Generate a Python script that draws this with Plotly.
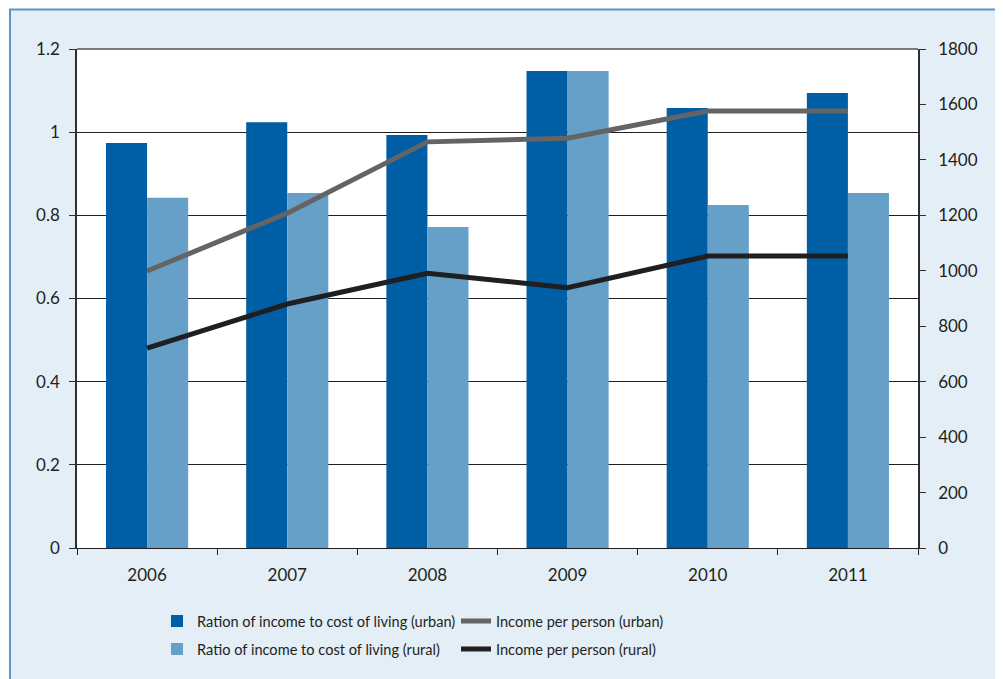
import plotly.graph_objects as go

years = ["2006", "2007", "2008", "2009", "2010", "2011"]
ratio_urban = [0.974, 1.024, 0.993, 1.147, 1.058, 1.094]
ratio_rural = [0.842, 0.854, 0.772, 1.147, 0.825, 0.854]
income_urban = [999, 1208, 1465, 1478, 1576, 1576]
income_rural = [721, 880, 991, 939, 1053, 1053]

left_ticks = [0, 0.2, 0.4, 0.6, 0.8, 1, 1.2]
left_ticklabels = ["0", "0.2", "0.4", "0.6", "0.8", "1", "1.2"]
right_ticks = [0, 200, 400, 600, 800, 1000, 1200, 1400, 1600, 1800]

FONT = "Lato"
TXT = "#231f20"
FS = 17
LFS = 14.6

fig = go.Figure()
fig.add_trace(go.Bar(x=years, y=ratio_urban, name="Ration of income to cost of living (urban)",
                     marker=dict(color="#005ea5", line=dict(width=0)), legend="legend",
                     legendgroup="a"))
fig.add_trace(go.Bar(x=years, y=ratio_rural, name="Ratio of income to cost of living (rural)",
                     marker=dict(color="#66a0c9", line=dict(width=0)), legend="legend",
                     legendgroup="b"))
fig.add_trace(go.Scatter(x=years, y=income_urban, name="Income per person (urban)", yaxis="y2",
                         mode="lines", line=dict(color="#646464", width=5), legend="legend2",
                         legendgroup="c"))
fig.add_trace(go.Scatter(x=years, y=income_rural, name="Income per person (rural)", yaxis="y2",
                         mode="lines", line=dict(color="#1f1e21", width=5), legend="legend2",
                         legendgroup="d"))

# page body has an 8px margin; figure coords = screen coords - 8
OFF = 8
L, R, T, B = 77 - OFF, 918 - OFF, 49 - OFF, 548 - OFF
W, H = 1003, 679
pw, ph = R - L, B - T

def px(x):
    return (x - OFF - L) / pw

def py(y):
    return (B - (y - OFF)) / ph

fig.update_layout(
    width=W, height=H,
    margin=dict(l=L, r=W - R, t=T, b=H - B, pad=0, autoexpand=False),
    paper_bgcolor="white",
    plot_bgcolor="rgba(0,0,0,0)",
    font=dict(family=FONT, size=FS, color=TXT),
    barmode="group", bargap=0.414, bargroupgap=0,
    xaxis=dict(type="category", showline=True, linecolor="#231f20", linewidth=1,
               ticks="outside", tickson="boundaries", ticklen=6, tickcolor="#231f20",
               showgrid=False, tickfont=dict(size=FS, color=TXT), ticklabelstandoff=12),
    yaxis=dict(range=[0, 1.2], tickvals=left_ticks, ticktext=left_ticklabels,
               showline=True, linecolor="#2e2e2e", linewidth=1.5,
               ticks="outside", ticklen=6, tickcolor="#2e2e2e",
               showgrid=True, gridcolor="#231f20", gridwidth=1, zeroline=False,
               tickfont=dict(size=FS, color=TXT), ticklabelstandoff=6),
    yaxis2=dict(range=[0, 1800], tickvals=right_ticks, overlaying="y", side="right",
                showline=True, linecolor="#2e2e2e", linewidth=1.5,
                ticks="outside", ticklen=6, tickcolor="#2e2e2e",
                showgrid=False, zeroline=False,
                tickfont=dict(size=FS, color=TXT), ticklabelstandoff=9),
    legend=dict(x=px(157), y=py(605), xanchor="left", yanchor="top",
                bgcolor="rgba(0,0,0,0)", font=dict(size=LFS, color=TXT),
                tracegroupgap=6, traceorder="grouped"),
    legend2=dict(x=px(456), y=py(605), xanchor="left", yanchor="top",
                 bgcolor="rgba(0,0,0,0)", font=dict(size=LFS, color=TXT),
                 tracegroupgap=6, traceorder="grouped"),
    shapes=[
        dict(type="rect", xref="paper", yref="paper",
             x0=px(10), x1=px(1030), y0=py(720), y1=py(9.5),
             fillcolor="#e3eef6", line=dict(color="#5b95c8", width=2), layer="below"),
        dict(type="rect", xref="paper", yref="paper",
             x0=0, x1=1, y0=0, y1=1,
             fillcolor="white", line=dict(width=0), layer="below"),
        dict(type="line", xref="paper", yref="paper",
             x0=0, x1=1, y0=1, y1=1,
             line=dict(color="#7a7a7a", width=2), layer="above"),
    ],
)

fig.write_html("out.html")
